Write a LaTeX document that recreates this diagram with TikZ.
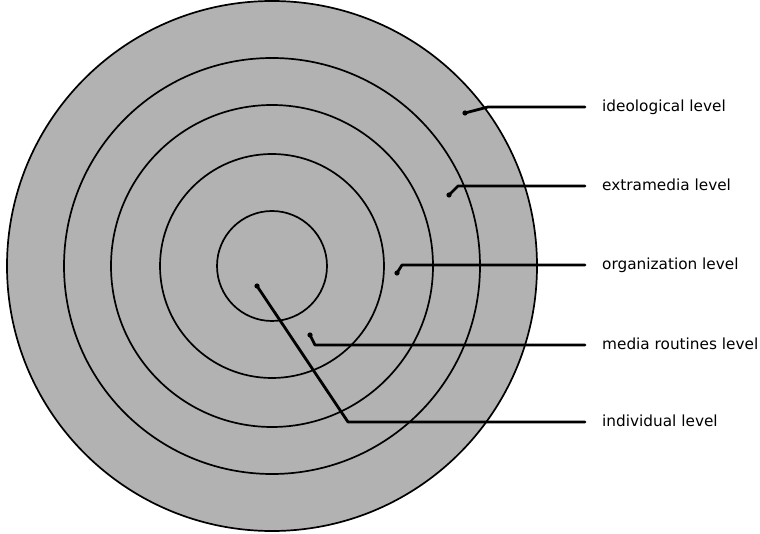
\documentclass[tikz,border=0pt]{standalone}
\usepackage{fontspec}
\setmainfont{DejaVu Sans}
\definecolor{ringfill}{gray}{0.70}
\begin{document}
\begin{tikzpicture}[x=1pt,y=-1pt,
  ring/.style={draw=black,line width=1.7pt},
  leader/.style={draw=black,line width=2.8pt,line cap=round,line join=round},
  blob/.style={fill=black},
  lbl/.style={anchor=base west,inner sep=0pt,font=\fontsize{15.3}{18}\selectfont}]
\useasboundingbox (0,0) rectangle (760,534);
\coordinate (c) at (272,266);
% filled disc and rings
\fill[ringfill] (c) circle[radius=265];
\foreach \r in {265,208,161,112,55}{
  \draw[ring] (c) circle[radius=\r];
}
% labels
\node[lbl] (tIdeo) at (602,112) {ideological level};
\node[lbl] (tExtra) at (602,191) {extramedia level};
\node[lbl] (tOrg) at (602,270) {organization level};
\node[lbl] (tRout) at (602,349) {media routines level};
\node[lbl] (tInd) at (602,426) {individual level};
% leader start and bend points
\coordinate (pIdeo) at (465,113);  \coordinate (bIdeo) at (488,107);
\coordinate (pExtra) at (449,195); \coordinate (bExtra) at (458,186);
\coordinate (pOrg) at (397,273);   \coordinate (bOrg) at (402,265);
\coordinate (pRout) at (310,335);  \coordinate (bRout) at (315,345);
\coordinate (pInd) at (257,286);   \coordinate (bInd) at (348,422);
% leaders
\foreach \n in {Ideo,Extra,Org,Rout,Ind}{
  \draw[leader,shorten >=17pt] (p\n) -- (b\n) -- (b\n -| t\n.west);
  \fill[blob] (p\n) circle[radius=2.6];
}
\end{tikzpicture}
\end{document}
